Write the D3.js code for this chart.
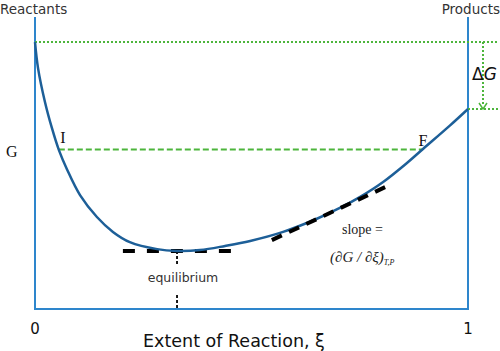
<!DOCTYPE html>
<html><head><meta charset="utf-8">
<script src="https://cdn.jsdelivr.net/npm/d3@7"></script>
<style>body{margin:0;background:#fff}svg{display:block}</style>
</head><body>
<script>
// Data (extent of reaction vs Gibbs energy, arbitrary units)
const xi = [0, 0.007, 0.023, 0.039, 0.055, 0.074, 0.104, 0.143, 0.180, 0.219, 0.282, 0.328, 0.381, 0.439, 0.497, 0.573, 0.651, 0.704, 0.751, 0.804, 0.859, 0.896, 0.958, 1.0];
const gibbs = [91.4, 82.5, 70.9, 62.0, 54.5, 47.8, 39.0, 31.5, 26.4, 22.9, 20.5, 19.9, 20.2, 21.6, 23.3, 26.4, 30.9, 34.6, 38.4, 43.5, 50.0, 54.8, 62.8, 68.5];
const xTickLabels = ["0", "1"];
const xTickValues = [0, 1];
const endLabels = ["Reactants", "Products"];
const gReactants = 91.4, gProducts = 68.5;
const levelIF = 54.6, xiI = 0.055, xiF = 0.896;
const xiEq = 0.328, gEq = 19.9, eqSpan = [0.203, 0.458];
const tangentXi = [0.547, 0.824], tangentG = [23.6, 42.8];

const W = 500, H = 351;
const svg = d3.select("body").append("svg").attr("width", W).attr("height", H);
const x = d3.scaleLinear().domain([0, 1]).range([35, 468]);
const y = d3.scaleLinear().domain([0, 100]).range([309, 17]);

const axisBlue = "#2e86cc", curveBlue = "#1d5f98", green = "#4db53c", txt = "#333";

// axes frame
svg.append("line").attr("x1", x(0)).attr("x2", x(0)).attr("y1", y(100)).attr("y2", y(0)).attr("stroke", axisBlue).attr("stroke-width", 2);
svg.append("line").attr("x1", x(1)).attr("x2", x(1)).attr("y1", y(100)).attr("y2", y(0)).attr("stroke", axisBlue).attr("stroke-width", 2);
svg.append("line").attr("x1", x(0)-1).attr("x2", x(1)+1).attr("y1", y(0)).attr("y2", y(0)).attr("stroke", axisBlue).attr("stroke-width", 2);

// green reference lines
svg.append("line").attr("x1", x(0)).attr("x2", 499).attr("y1", y(gReactants)).attr("y2", y(gReactants))
  .attr("stroke", green).attr("stroke-width", 2).attr("stroke-dasharray", "2,2");
svg.append("line").attr("x1", x(1)).attr("x2", 499).attr("y1", y(gProducts)).attr("y2", y(gProducts))
  .attr("stroke", green).attr("stroke-width", 2).attr("stroke-dasharray", "2,2");
const ax = 483;
svg.append("line").attr("x1", ax).attr("x2", ax).attr("y1", y(gReactants)).attr("y2", y(gProducts)-3)
  .attr("stroke", green).attr("stroke-width", 2).attr("stroke-dasharray", "2,2");
svg.append("path").attr("d", `M${ax-4},${y(gProducts)-6} L${ax},${y(gProducts)} L${ax+4},${y(gProducts)-6}`)
  .attr("fill", "none").attr("stroke", green).attr("stroke-width", 1.5);
svg.append("line").attr("x1", x(xiI)).attr("x2", x(xiF)).attr("y1", y(levelIF)).attr("y2", y(levelIF))
  .attr("stroke", green).attr("stroke-width", 2).attr("stroke-dasharray", "6,3");

// equilibrium markers
svg.append("line").attr("x1", x(eqSpan[0])).attr("x2", x(eqSpan[1])).attr("y1", y(gEq)).attr("y2", y(gEq))
  .attr("stroke", "#000").attr("stroke-width", 4).attr("stroke-dasharray", "12,12");
svg.append("line").attr("x1", x(xiEq)).attr("x2", x(xiEq)).attr("y1", y(gEq)).attr("y2", 264)
  .attr("stroke", "#000").attr("stroke-width", 1.8).attr("stroke-dasharray", "3,2");
svg.append("line").attr("x1", x(xiEq)).attr("x2", x(xiEq)).attr("y1", 295).attr("y2", y(0))
  .attr("stroke", "#000").attr("stroke-width", 1.8).attr("stroke-dasharray", "3,2");

// curve
const line = d3.line().x((d,i) => x(xi[i])).y((d,i) => y(gibbs[i])).curve(d3.curveCatmullRom.alpha(0.5));
svg.append("path").attr("d", line(gibbs)).attr("fill", "none").attr("stroke", curveBlue).attr("stroke-width", 2.5);

// tangent
svg.append("line").attr("x1", x(tangentXi[0])).attr("x2", x(tangentXi[1])).attr("y1", y(tangentG[0])).attr("y2", y(tangentG[1]))
  .attr("stroke", "#000").attr("stroke-width", 4).attr("stroke-dasharray", "11,8");

// texts
const sans = "DejaVu Sans, Verdana, sans-serif", serif = "Liberation Serif, Times New Roman, serif";
svg.append("text").attr("x", 0).attr("y", 14).attr("font-family", sans).attr("font-size", 13.5).attr("fill", txt).text(endLabels[0]);
svg.append("text").attr("x", 500).attr("y", 14).attr("text-anchor", "end").attr("font-family", sans).attr("font-size", 13.5).attr("fill", txt).text(endLabels[1]);
xTickValues.forEach((v,i) => {
  svg.append("text").attr("x", x(v)).attr("y", 334).attr("text-anchor", "middle").attr("font-family", sans).attr("font-size", 15).attr("fill", "#111").text(xTickLabels[i]);
});
svg.append("text").attr("x", 143).attr("y", 347).attr("font-family", sans).attr("font-size", 17.5).attr("fill", "#111").text("Extent of Reaction, ξ");
svg.append("text").attr("x", 183).attr("y", 282).attr("text-anchor", "middle").attr("font-family", sans).attr("font-size", 12.5).attr("fill", txt).text("equilibrium");
svg.append("text").attr("x", 6).attr("y", 157).attr("font-family", serif).attr("font-size", 16).attr("fill", "#111").text("G");
svg.append("text").attr("x", x(xiI)+4).attr("y", 143).attr("text-anchor", "middle").attr("font-family", serif).attr("font-size", 16).attr("fill", "#111").text("I");
svg.append("text").attr("x", x(xiF)).attr("y", 146).attr("text-anchor", "middle").attr("font-family", serif).attr("font-size", 16).attr("fill", "#111").text("F");
const dg = svg.append("text").attr("x", 472).attr("y", 80).attr("font-family", sans).attr("font-size", 17).attr("fill", "#111");
dg.append("tspan").text("Δ");
dg.append("tspan").attr("font-style", "italic").text("G");
svg.append("text").attr("x", 342).attr("y", 234).attr("font-family", serif).attr("font-size", 14).attr("fill", "#222").text("slope =");
const sl = svg.append("text").attr("x", 330).attr("y", 262).attr("font-family", serif).attr("font-size", 15).attr("font-style", "italic").attr("fill", "#222");
sl.append("tspan").text("(∂G / ∂ξ)");
sl.append("tspan").attr("font-size", 8).attr("dy", 3).text("T,P");
</script>
</body></html>
